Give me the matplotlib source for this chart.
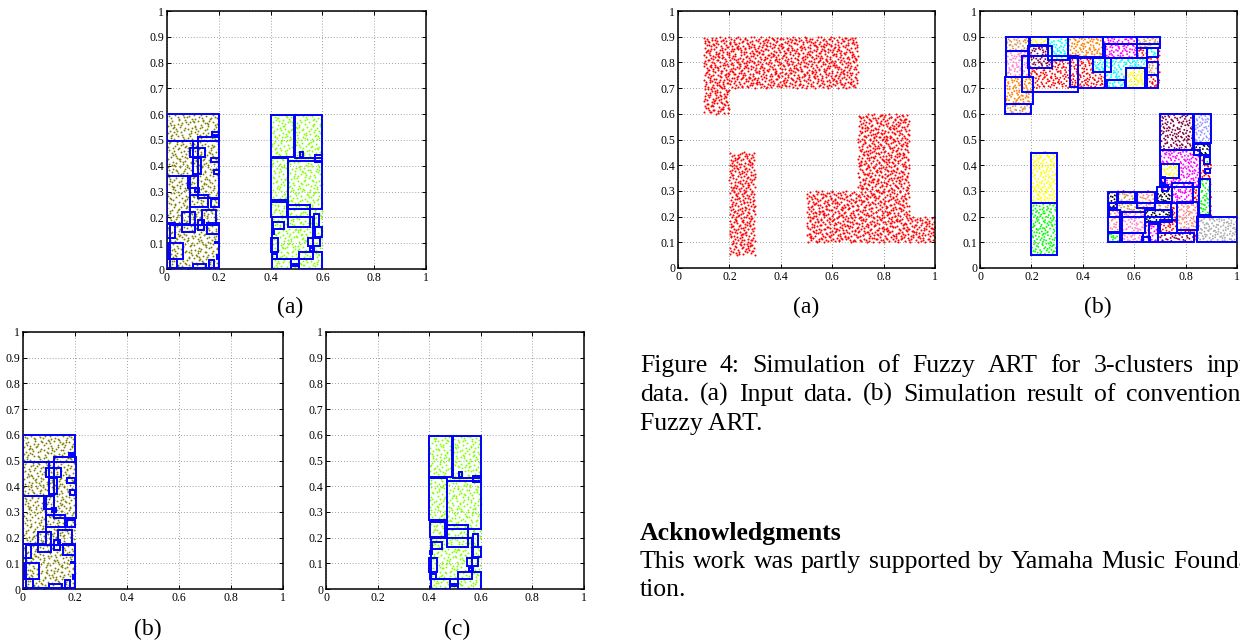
import numpy as np
import matplotlib
matplotlib.use("Agg")
import matplotlib.pyplot as plt
from matplotlib.patches import Rectangle

plt.rcParams['font.family'] = ['Liberation Serif', 'DejaVu Serif']

# ---------------- data ----------------
x_ticks = [0, 0.2, 0.4, 0.6, 0.8, 1]
x_tick_labels = ["0", "0.2", "0.4", "0.6", "0.8", "1"]
y_ticks = [0, 0.1, 0.2, 0.3, 0.4, 0.5, 0.6, 0.7, 0.8, 0.9, 1]
y_tick_labels = ["0", "0.1", "0.2", "0.3", "0.4", "0.5", "0.6", "0.7", "0.8", "0.9", "1"]

# point regions (x0, y0, x1, y1) and point counts
olive_regions = [(0.0, 0.0, 0.2, 0.6)]
olive_count = 650
lime_regions = [(0.4, 0.0, 0.6, 0.6)]
lime_count = 650
red_regions = [(0.1, 0.7, 0.7, 0.9), (0.1, 0.6, 0.2, 0.7), (0.2, 0.05, 0.3, 0.45),
               (0.5, 0.1, 0.9, 0.3), (0.7, 0.3, 0.9, 0.6), (0.9, 0.1, 1.0, 0.2)]
red_density = 7500

# category boxes of the 2-cluster experiment (x0, y0, x1, y1)
olive_boxes = [
    (0.0, 0.496, 0.2, 0.6), (0.0, 0.36, 0.1, 0.496), (0.118, 0.276, 0.202, 0.513),
    (0.089, 0.435, 0.147, 0.47), (0.1, 0.37, 0.13, 0.43), (0.17, 0.413, 0.2, 0.43),
    (0.18, 0.367, 0.2, 0.384), (0.175, 0.52, 0.2, 0.53), (0.0, 0.175, 0.09, 0.36),
    (0.08, 0.313, 0.118, 0.36), (0.09, 0.24, 0.16, 0.287), (0.17, 0.24, 0.2, 0.27),
    (0.057, 0.145, 0.108, 0.22), (0.134, 0.17, 0.19, 0.23), (0.12, 0.15, 0.143, 0.19),
    (0.153, 0.134, 0.2, 0.177), (0.01, 0.003, 0.2, 0.17), (0.0, 0.12, 0.03, 0.177),
    (0.005, 0.04, 0.06, 0.1), (0.0, 0.003, 0.037, 0.04), (0.1, 0.0, 0.15, 0.02),
    (0.163, 0.003, 0.18, 0.034), (0.186, 0.1, 0.2, 0.106), (0.194, 0.04, 0.2, 0.053),
    (0.11, 0.3, 0.125, 0.315),
]
lime_boxes = [
    (0.4, 0.435, 0.49, 0.597), (0.494, 0.43, 0.6, 0.597), (0.4, 0.267, 0.468, 0.43),
    (0.468, 0.233, 0.6, 0.42), (0.514, 0.435, 0.527, 0.455), (0.57, 0.416, 0.6, 0.44),
    (0.403, 0.203, 0.462, 0.26), (0.468, 0.164, 0.552, 0.248), (0.406, 0.04, 0.565, 0.2),
    (0.41, 0.155, 0.45, 0.183), (0.568, 0.164, 0.588, 0.215), (0.57, 0.125, 0.6, 0.164),
    (0.546, 0.09, 0.59, 0.119), (0.4, 0.067, 0.43, 0.119), (0.405, 0.04, 0.426, 0.06),
    (0.407, 0.0, 0.48, 0.04), (0.511, 0.0, 0.6, 0.067), (0.488, 0.01, 0.51, 0.018),
    (0.553, 0.07, 0.568, 0.083), (0.404, 0.135, 0.412, 0.148),
]

# category boxes of the 3-cluster experiment with their cluster colours
tan, orange, pink, yellow, maroon = '#D89850', '#FF8000', '#FF88CC', '#FFFF00', '#800040'
red, cyan, magenta, green, lavender = '#FF0000', '#00FFFF', '#FF00FF', '#00FF00', '#9999FF'
black, salmon, gray = '#000000', '#FF8888', '#AAAAAA'
fuzzy_boxes = [
    (0.1, 0.846, 0.192, 0.9, tan), (0.1, 0.744, 0.19, 0.846, pink),
    (0.097, 0.64, 0.205, 0.744, orange), (0.097, 0.6, 0.2, 0.64, tan),
    (0.195, 0.868, 0.264, 0.9, yellow), (0.188, 0.777, 0.279, 0.864, maroon),
    (0.165, 0.684, 0.383, 0.824, red), (0.264, 0.81, 0.344, 0.9, cyan),
    (0.344, 0.82, 0.48, 0.9, orange), (0.35, 0.705, 0.383, 0.816, red),
    (0.383, 0.7, 0.486, 0.816, red), (0.441, 0.764, 0.508, 0.816, cyan),
    (0.48, 0.87, 0.61, 0.9, magenta), (0.486, 0.816, 0.61, 0.87, magenta),
    (0.61, 0.87, 0.7, 0.9, tan), (0.486, 0.7, 0.648, 0.816, cyan),
    (0.568, 0.7, 0.642, 0.777, yellow), (0.493, 0.7, 0.564, 0.732, cyan),
    (0.648, 0.822, 0.694, 0.855, cyan), (0.648, 0.751, 0.694, 0.803, tan),
    (0.648, 0.7, 0.694, 0.751, red), (0.61, 0.855, 0.7, 0.87, tan),
    (0.198, 0.252, 0.298, 0.449, yellow), (0.198, 0.05, 0.298, 0.252, green),
    (0.7, 0.459, 0.83, 0.599, maroon), (0.834, 0.488, 0.898, 0.599, lavender),
    (0.834, 0.44, 0.895, 0.482, black), (0.7, 0.316, 0.856, 0.459, magenta),
    (0.703, 0.349, 0.776, 0.405, yellow), (0.871, 0.405, 0.895, 0.43, green),
    (0.875, 0.368, 0.895, 0.385, magenta), (0.703, 0.33, 0.72, 0.355, magenta),
    (0.707, 0.3, 0.732, 0.322, magenta), (0.746, 0.252, 0.83, 0.33, magenta),
    (0.853, 0.206, 0.895, 0.345, green), (0.846, 0.102, 1.0, 0.2, gray),
    (0.499, 0.232, 0.532, 0.297, black), (0.538, 0.258, 0.603, 0.297, tan),
    (0.61, 0.232, 0.681, 0.297, salmon), (0.499, 0.141, 0.545, 0.226, salmon),
    (0.551, 0.135, 0.642, 0.219, pink), (0.642, 0.18, 0.746, 0.226, black),
    (0.765, 0.148, 0.85, 0.258, salmon), (0.7, 0.135, 0.765, 0.187, red),
    (0.499, 0.102, 0.545, 0.135, green), (0.551, 0.102, 0.636, 0.135, pink),
    (0.659, 0.102, 0.694, 0.171, magenta), (0.694, 0.102, 0.833, 0.135, maroon),
    (0.5, 0.2, 0.745, 0.252, tan), (0.687, 0.258, 0.746, 0.316, black),
    (0.63, 0.1, 0.66, 0.12, pink),
]

caption_lines = ["Figure 4:  Simulation of Fuzzy ART for 3-clusters input",
                 "data.  (a) Input data.  (b) Simulation result of conventional",
                 "Fuzzy ART."]
ack_title = "Acknowledgments"
ack_lines = ["This work was partly supported by Yamaha Music Founda-", "tion."]


# ---------------- helpers ----------------
def halton(n, base):
    out = np.empty(n)
    for i in range(n):
        f, r, k = 1.0, 0.0, i + 1
        while k > 0:
            f /= base
            r += f * (k % base)
            k //= base
        out[i] = r
    return out


def region_points(regions, n_total, offset=0):
    xs, ys = [], []
    area = sum((r[2] - r[0]) * (r[3] - r[1]) for r in regions)
    start = offset
    for (x0, y0, x1, y1) in regions:
        n = int(round(n_total * (x1 - x0) * (y1 - y0) / area))
        u = halton(n + start, 2)[start:]
        v = halton(n + start, 3)[start:]
        start += n
        xs.append(x0 + u * (x1 - x0))
        ys.append(y0 + v * (y1 - y0))
    return np.concatenate(xs), np.concatenate(ys)


def style_axes(ax):
    ax.set_xlim(0, 1)
    ax.set_ylim(0, 1)
    ax.set_xticks(x_ticks)
    ax.set_xticklabels(x_tick_labels)
    ax.set_yticks(y_ticks)
    ax.set_yticklabels(y_tick_labels)
    ax.tick_params(direction='in', length=3, width=0.7, labelsize=8.5,
                   top=True, right=True, pad=2)
    ax.grid(True, linestyle=(0, (1, 2.5)), color='#808080', linewidth=0.6)
    ax.set_axisbelow(True)
    for s in ax.spines.values():
        s.set_linewidth(1.1)
        s.set_color('black')


def draw_boxes(ax, boxes):
    for b in boxes:
        ax.add_patch(Rectangle((b[0], b[1]), b[2] - b[0], b[3] - b[1], fill=False,
                               edgecolor='#0000FF', linewidth=1.4, zorder=3))


W, H = 1240, 643
fig = plt.figure(figsize=(W / 100, H / 100), dpi=100)
renderer = fig.canvas.get_renderer()


def add_ax(x0, y0, x1, y1):
    return fig.add_axes([x0 / W, 1 - y1 / H, (x1 - x0) / W, (y1 - y0) / H])


TEXT_FS = 18.5
COL_LEFT, COL_RIGHT = 640, 1259


def justified(line, y_base, justify=True, **kw):
    words = line.split()
    if not justify:
        fig.text(COL_LEFT / W, 1 - y_base / H, line, ha='left', va='baseline',
                 fontsize=TEXT_FS, **kw)
        return
    widths = []
    for wd in words:
        t = fig.text(0, 0, wd, fontsize=TEXT_FS, **kw)
        widths.append(t.get_window_extent(renderer).width)
        t.remove()
    gap = (COL_RIGHT - COL_LEFT - sum(widths)) / (len(words) - 1)
    x = COL_LEFT
    for wd, wdt in zip(words, widths):
        fig.text(x / W, 1 - y_base / H, wd, ha='left', va='baseline',
                 fontsize=TEXT_FS, **kw)
        x += wdt + gap


ox, oy = region_points(olive_regions, olive_count)
lx, ly = region_points(lime_regions, lime_count, offset=5000)
red_area = sum((r[2] - r[0]) * (r[3] - r[1]) for r in red_regions)
rx, ry = region_points(red_regions, int(red_density * red_area), offset=200)

# top-left (a)
ax1 = add_ax(167, 11, 426, 269)
style_axes(ax1)
ax1.scatter(ox, oy, s=1.8, color='#808000', linewidths=0, zorder=2)
ax1.scatter(lx, ly, s=1.8, color='#80FF00', linewidths=0, zorder=2)
draw_boxes(ax1, olive_boxes)
draw_boxes(ax1, lime_boxes)

# bottom-left (b)
ax2 = add_ax(23, 332, 283, 589)
style_axes(ax2)
ax2.scatter(ox, oy, s=1.8, color='#808000', linewidths=0, zorder=2)
draw_boxes(ax2, olive_boxes)

# bottom-middle (c)
ax3 = add_ax(326, 332, 584, 589)
style_axes(ax3)
ax3.scatter(lx, ly, s=1.8, color='#80FF00', linewidths=0, zorder=2)
draw_boxes(ax3, lime_boxes)

# top-right (a)
ax4 = add_ax(678, 11, 935, 268)
style_axes(ax4)
ax4.scatter(rx, ry, s=2.2, color='#FF0000', linewidths=0, zorder=2)

# top-right (b)
ax5 = add_ax(980, 11, 1237, 268)
style_axes(ax5)
bx, by = rx, ry
cols = []
for px, py in zip(bx, by):
    best, best_area = red, 10.0
    for b in fuzzy_boxes:
        if b[0] <= px <= b[2] and b[1] <= py <= b[3]:
            a = (b[2] - b[0]) * (b[3] - b[1])
            if a < best_area:
                best, best_area = b[4], a
    cols.append(best)
ax5.scatter(bx, by, s=1.8, c=cols, linewidths=0, zorder=2)
draw_boxes(ax5, fuzzy_boxes)

# sub-figure labels
for (x, y, t) in [(290, 313, "(a)"), (806, 313, "(a)"), (1098, 313, "(b)"),
                  (148, 635, "(b)"), (457, 635, "(c)")]:
    fig.text(x / W, 1 - y / H, t, ha='center', va='baseline', fontsize=17)

# caption and acknowledgments (justified column, cut by the page edge)
justified(caption_lines[0], 372)
justified(caption_lines[1], 401)
justified(caption_lines[2], 430, justify=False)
justified(ack_title, 540, justify=False, fontweight='bold')
justified(ack_lines[0], 568)
justified(ack_lines[1], 596, justify=False)

fig.savefig("out.png", dpi=100)
